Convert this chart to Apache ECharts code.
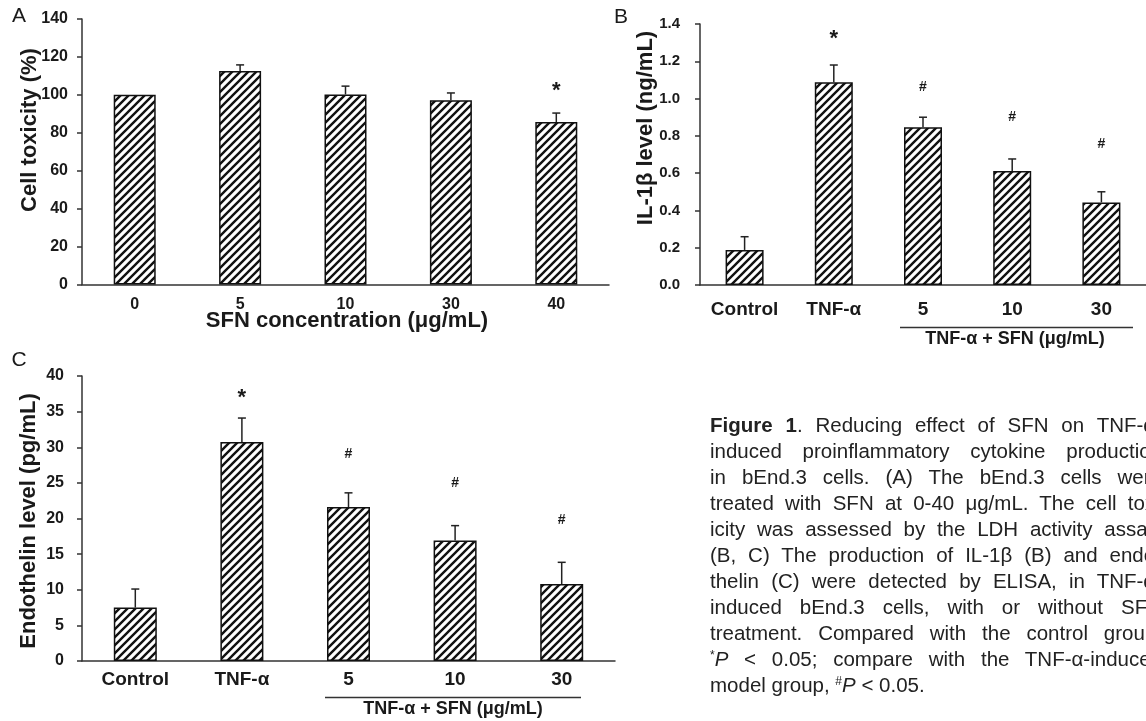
<!DOCTYPE html>
<html>
<head>
<meta charset="utf-8">
<script src="https://cdn.jsdelivr.net/npm/echarts@6/dist/echarts.min.js"></script>
<style>
  html, body { margin: 0; padding: 0; background: #fff; overflow: hidden; }
  #chart { position: absolute; left: 0; top: 0; width: 1146px; height: 721px; }
  #caption {
    position: absolute; left: 710px; top: 412px; width: 452px;
    font-family: 'Liberation Sans', Arial, sans-serif; font-size: 20.5px;
    line-height: 26px; color: #222;
  }
  #caption div { text-align: justify; text-align-last: justify; white-space: normal; }
  #caption div.last { text-align-last: left; }
  #caption sup { font-size: 12px; vertical-align: 7px; line-height: 0; }
</style>
</head>
<body>
<div id="chart"></div>
<div id="caption">
  <div><b>Figure 1</b>. Reducing effect of SFN on TNF-α-</div>
  <div>induced proinflammatory cytokine production</div>
  <div>in bEnd.3 cells. (A) The bEnd.3 cells were</div>
  <div>treated with SFN at 0-40 μg/mL. The cell tox-</div>
  <div>icity was assessed by the LDH activity assay.</div>
  <div>(B, C) The production of IL-1β (B) and endo-</div>
  <div>thelin (C) were detected by ELISA, in TNF-α-</div>
  <div>induced bEnd.3 cells, with or without SFN</div>
  <div>treatment. Compared with the control group,</div>
  <div><sup>*</sup><i>P</i> &lt; 0.05; compare with the TNF-α-induced</div>
  <div class="last">model group, <sup>#</sup><i>P</i> &lt; 0.05.</div>
</div>
<script>
// Panel A: cell toxicity vs SFN concentration
const catsA = ['0', '5', '10', '30', '40'];
const valsA = [100, 112.6, 100.2, 97.2, 85.7];
const errA = [0, 3.2, 4.4, 3.8, 4.7];
const marksA = ['', '', '', '', '*'];
const markYA = [null, null, null, null, 104.5];

// Panel B: IL-1β level
const catsB = ['Control', 'TNF-α', '5', '10', '30'];
const valsB = [0.188, 1.087, 0.846, 0.611, 0.443];
const errB = [0.071, 0.093, 0.054, 0.065, 0.057];
const marksB = ['', '*', '#', '#', '#'];
const markYB = [null, 1.347, 1.062, 0.901, 0.756];

// Panel C: endothelin level
const catsC = ['Control', 'TNF-α', '5', '10', '30'];
const valsC = [7.5, 30.75, 21.6, 16.9, 10.8];
const errC = [2.6, 3.35, 2.0, 2.1, 3.05];
const marksC = ['', '*', '#', '#', '#'];
const markYC = [null, 37.6, 29.0, 24.9, 19.7];

const FONT = "'Liberation Sans', Arial, sans-serif";
const INK = '#1a1a1a';

function hatch(size, lw) {
  const c = document.createElement('canvas');
  c.width = c.height = size;
  const g = c.getContext('2d');
  g.fillStyle = '#fff';
  g.fillRect(0, 0, size, size);
  g.strokeStyle = '#111';
  g.lineWidth = lw;
  g.beginPath();
  g.moveTo(0, size); g.lineTo(size, 0);
  g.moveTo(-size / 2, size / 2); g.lineTo(size / 2, -size / 2);
  g.moveTo(size / 2, size * 1.5); g.lineTo(size * 1.5, size / 2);
  g.stroke();
  return c;
}
const pattern = { image: hatch(8, 2.4), repeat: 'repeat' };

function barSeries(idx, vals, width) {
  return {
    type: 'bar', xAxisIndex: idx, yAxisIndex: idx, data: vals, barWidth: width,
    itemStyle: { color: pattern, borderColor: '#111', borderWidth: 1.5 },
    silent: true, z: 2,
  };
}

function errSeries(idx, vals, errs) {
  return {
    type: 'custom', xAxisIndex: idx, yAxisIndex: idx, z: 3, silent: true,
    data: vals.map((v, i) => [i, v, errs[i]]),
    renderItem(params, api) {
      const e = api.value(2);
      if (!e) return null;
      const base = api.coord([api.value(0), api.value(1)]);
      const top = api.coord([api.value(0), api.value(1) + e]);
      const s = { stroke: '#222', lineWidth: 1.5 };
      return {
        type: 'group', children: [
          { type: 'line', shape: { x1: base[0], y1: base[1], x2: top[0], y2: top[1] }, style: s },
          { type: 'line', shape: { x1: top[0] - 4, y1: top[1], x2: top[0] + 4, y2: top[1] }, style: s },
        ],
      };
    },
  };
}

function markSeries(idx, marks, ys) {
  return {
    type: 'custom', xAxisIndex: idx, yAxisIndex: idx, z: 4, silent: true,
    data: ys.map((y, i) => [i, y == null ? 0 : y]),
    renderItem(params, api) {
      const m = marks[params.dataIndex];
      if (!m) return null;
      const p = api.coord([api.value(0), api.value(1)]);
      const star = m === '*';
      return {
        type: 'text',
        style: {
          x: p[0], y: p[1] + (star ? 5 : 0), text: m,
          font: star ? `bold 22px ${FONT}` : `bold 14px ${FONT}`,
          fill: INK, textAlign: 'center', textVerticalAlign: 'middle',
        },
      };
    },
  };
}

function xAx(idx, cats, size, margin) {
  return {
    gridIndex: idx, type: 'category', data: cats,
    axisLine: { lineStyle: { color: '#333', width: 1.5 } },
    axisTick: { length: 5, lineStyle: { color: '#333', width: 1.5 } },
    axisLabel: { color: INK, fontFamily: FONT, fontWeight: 'bold', fontSize: size, margin: margin },
  };
}

function yAx(idx, max, step, size, margin, fmt) {
  return {
    gridIndex: idx, type: 'value', min: 0, max: max, interval: step,
    splitLine: { show: false },
    axisLine: { show: true, lineStyle: { color: '#333', width: 1.5 } },
    axisTick: { show: true, length: 5, lineStyle: { color: '#333', width: 1.5 } },
    axisLabel: { color: INK, fontFamily: FONT, fontWeight: 'bold', fontSize: size, margin: margin, formatter: fmt },
  };
}

function label(text, x, y, size, weight, rot) {
  return {
    type: 'text', x: x, y: y, rotation: rot || 0, silent: true,
    style: {
      text: text, font: `${weight} ${size}px ${FONT}`, fill: INK,
      textAlign: 'center', textVerticalAlign: 'middle',
    },
  };
}

function rule(x1, x2, y) {
  return {
    type: 'line', silent: true, shape: { x1: x1, y1: y, x2: x2, y2: y },
    style: { stroke: '#333', lineWidth: 1.5 },
  };
}

const chart = echarts.init(document.getElementById('chart'), null, { renderer: 'canvas' });
chart.setOption({
  animation: false,
  backgroundColor: '#fff',
  grid: [
    { left: 82, top: 19, width: 527, height: 265.5 },
    { left: 700, top: 24, width: 455, height: 261 },
    { left: 82, top: 376, width: 533, height: 285 },
  ],
  xAxis: [xAx(0, catsA, 16, 12), xAx(1, catsB, 19, 15), xAx(2, catsC, 19, 9)],
  yAxis: [
    yAx(0, 140, 20, 16, 14),
    yAx(1, 1.4, 0.2, 15, 20, v => v.toFixed(1)),
    yAx(2, 40, 5, 16, 18),
  ],
  series: [
    barSeries(0, valsA, 42), errSeries(0, valsA, errA), markSeries(0, marksA, markYA),
    barSeries(1, valsB, 38), errSeries(1, valsB, errB), markSeries(1, marksB, markYB),
    barSeries(2, valsC, 43), errSeries(2, valsC, errC), markSeries(2, marksC, markYC),
  ],
  graphic: [
    label('A', 19, 16, 21, 'normal'),
    label('B', 621, 17, 21, 'normal'),
    label('C', 19, 360, 21, 'normal'),
    label('Cell toxicity (%)', 30, 130, 22, 'bold', Math.PI / 2),
    label('SFN concentration (μg/mL)', 347, 321, 22, 'bold'),
    label('IL-1β level (ng/mL)', 646, 128, 22, 'bold', Math.PI / 2),
    label('Endothelin level (pg/mL)', 29, 521, 22, 'bold', Math.PI / 2),
    rule(900, 1133, 327.5),
    label('TNF-α + SFN (μg/mL)', 1015, 339, 18, 'bold'),
    rule(325, 581, 697.5),
    label('TNF-α + SFN (μg/mL)', 453, 709, 18, 'bold'),
  ],
});
</script>
</body>
</html>
